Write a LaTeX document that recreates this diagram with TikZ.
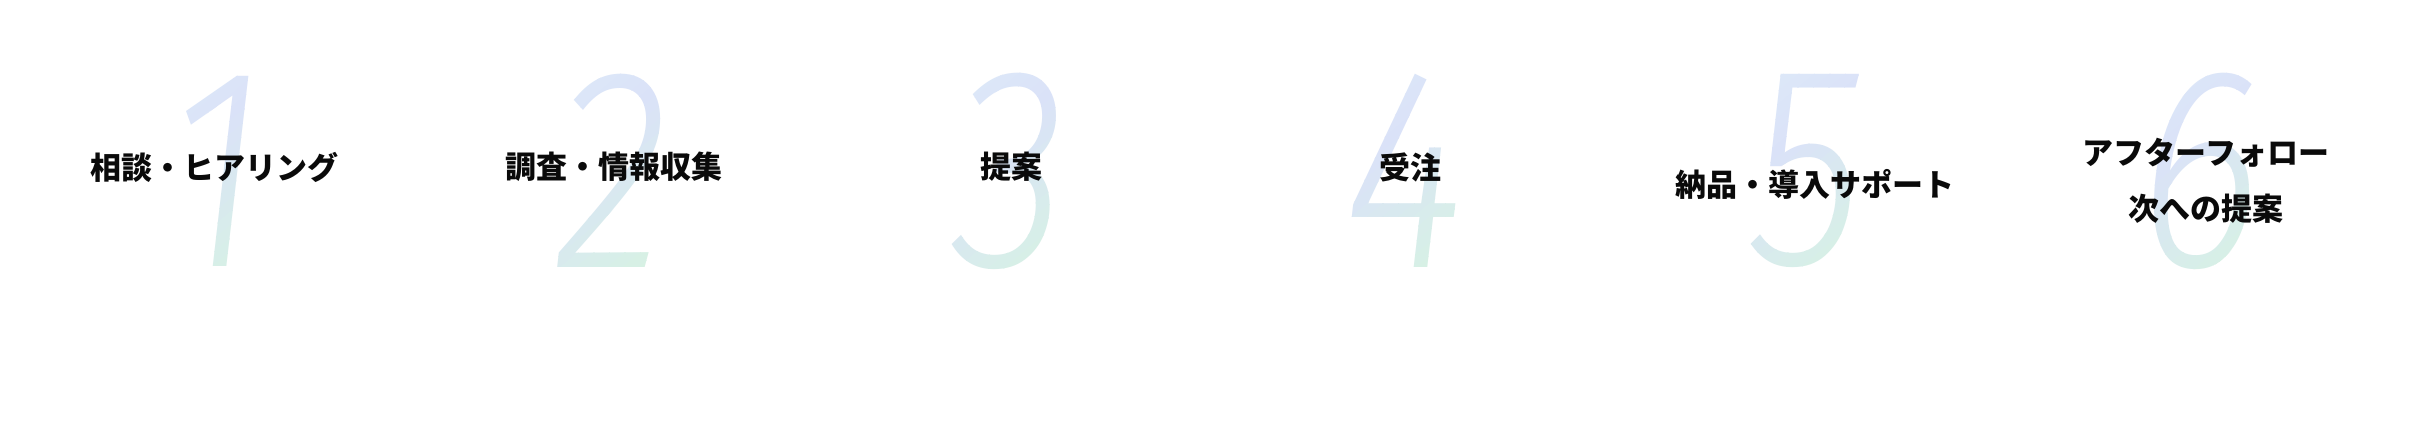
\documentclass[tikz,border=0pt]{standalone}
\usepackage{fontspec}
\newfontfamily\jpfont{Noto Sans CJK JP}
\newfontfamily\numfont[FakeStretch=0.82]{Fira Sans Light Italic}
\definecolor{numsky}{HTML}{DEEBF8}
\definecolor{numlav}{HTML}{DAE2F8}
\definecolor{numgreen}{HTML}{D6F5DF}
\definecolor{txt}{HTML}{0A0A0A}
\tikzset{
  steplabel/.style={inner sep=0pt, text=txt, align=center, font=\jpfont\bfseries\fontsize{31}{56}\selectfont},
  numglyph/.style={inner sep=0pt, font=\numfont\fontsize{286}{286}\selectfont}
}
\begin{document}
\begin{tikzpicture}[x=1pt, y=-1pt]
  \useasboundingbox[fill=white] (0,0) rectangle (2424,422);
  % big numerals, diagonal gradient built from clipped bands
  \foreach \d/\x in {1/216, 2/612, 3/1010, 4/1405, 5/1806, 6/2201}{
    \coordinate (n\d) at (\x,171);
    \foreach \i in {0,...,25}{
      \ifnum\i<9
        \pgfmathtruncatemacro{\p}{\i*100/9}
        \colorlet{bandcol}{numlav!\p!numsky}
      \else
        \pgfmathtruncatemacro{\p}{(\i-9)*100/16}
        \colorlet{bandcol}{numgreen!\p!numlav}
      \fi
      \pgfmathsetmacro{\ya}{-130+\i*10}
      \pgfmathsetmacro{\yb}{-130+\i*10+10.6}
      \begin{scope}
        \clip[shift={(n\d)}, rotate=40] (-220,\ya) rectangle (220,\yb);
        \node[numglyph, text=bandcol] (g\d-\i) at (n\d) {\d};
      \end{scope}
    }
  }
  % labels
  \node[steplabel] (t1) at (214,167) {相談・ヒアリング};
  \node[steplabel] (t2) at (614,167) {調査・情報収集};
  \node[steplabel] (t3) at (1011,167) {提案};
  \node[steplabel] (t4) at (1410,167) {受注};
  \node[steplabel] (t5) at (1815,184) {納品・導入サポート};
  \node[steplabel] (t6) at (2206,181) {アフターフォロー\\次への提案};
\end{tikzpicture}
\end{document}
